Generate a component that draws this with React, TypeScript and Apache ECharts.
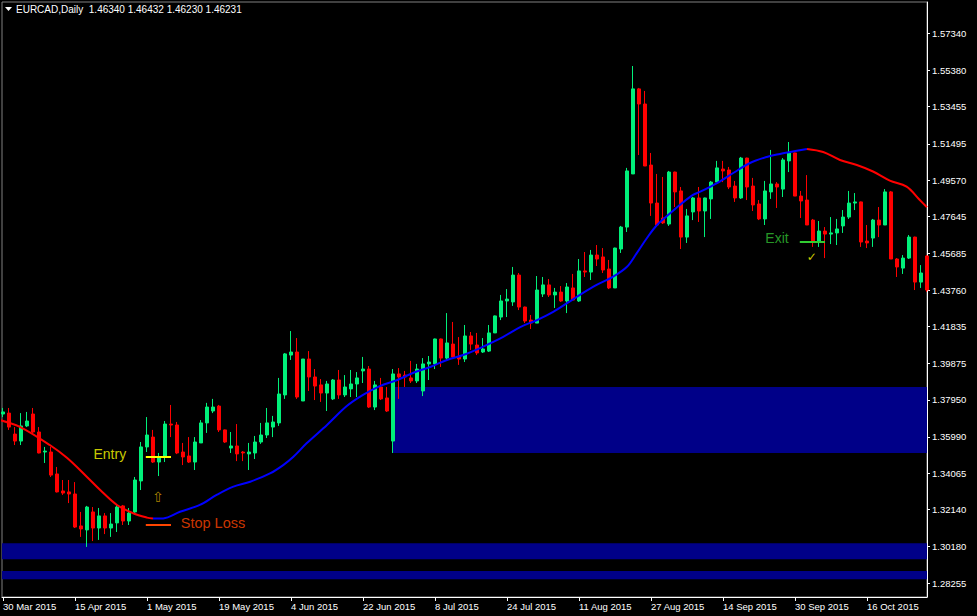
import React, { useEffect, useRef } from "react";
import * as echarts from "echarts";

// ---- Data (EURCAD daily bars, index 0 = 30 Mar 2015) ----
const OPEN = [
  1.3720, 1.3725, 1.3614, 1.3577, 1.3657, 1.3720, 1.3625, 1.3519, 1.3519, 1.3403,
  1.3313, 1.3308, 1.3297, 1.3128, 1.3107, 1.3202, 1.3117, 1.3181, 1.3117, 1.3144,
  1.3234, 1.3154, 1.3202, 1.3366, 1.3546, 1.3598, 1.3466, 1.3493, 1.3667, 1.3662,
  1.3519, 1.3498, 1.3466, 1.3567, 1.3673, 1.3736, 1.3762, 1.3636, 1.3540, 1.3551,
  1.3519, 1.3509, 1.3514, 1.3572, 1.3609, 1.3651, 1.3673, 1.3821, 1.4032, 1.4048,
  1.3789, 1.4011, 1.3916, 1.3874, 1.3831, 1.3800, 1.3900, 1.3821, 1.3853, 1.3879,
  1.3948, 1.3958, 1.3757, 1.3863, 1.3805, 1.3577, 1.3932, 1.3926, 1.3911, 1.3895,
  1.3842, 1.3985, 1.3985, 1.4117, 1.4016, 1.4090, 1.4022, 1.4011, 1.4133, 1.4085,
  1.4048, 1.4053, 1.4149, 1.4233, 1.4318, 1.4313, 1.4455, 1.4286, 1.4217, 1.4201,
  1.4355, 1.4403, 1.4350, 1.4365, 1.4318, 1.4387, 1.4318, 1.4477, 1.4471, 1.4561,
  1.4551, 1.4487, 1.4387, 1.4593, 1.4709, 1.4990, 1.5440, 1.5360, 1.5037, 1.4836,
  1.4757, 1.4725, 1.5000, 1.4900, 1.4656, 1.4789, 1.4863, 1.4794, 1.4858, 1.4947,
  1.5016, 1.5011, 1.4926, 1.4863, 1.5074, 1.4926, 1.4831, 1.4752, 1.4895, 1.4937,
  1.4910, 1.5059, 1.5101, 1.4873, 1.4852, 1.4746, 1.4635, 1.4688, 1.4672, 1.4678,
  1.4715, 1.4762, 1.4836, 1.4842, 1.4635, 1.4651, 1.4746, 1.4720, 1.4895, 1.4540,
  1.4492, 1.4545, 1.4656, 1.4418, 1.4556,
];
const CLOSE = [
  1.3731, 1.3651, 1.3577, 1.3657, 1.3683, 1.3625, 1.3514, 1.3524, 1.3397, 1.3308,
  1.3302, 1.3297, 1.3122, 1.3112, 1.3228, 1.3117, 1.3181, 1.3117, 1.3138, 1.3228,
  1.3154, 1.3196, 1.3371, 1.3546, 1.3609, 1.3466, 1.3493, 1.3667, 1.3662, 1.3514,
  1.3493, 1.3466, 1.3572, 1.3673, 1.3757, 1.3757, 1.3636, 1.3572, 1.3551, 1.3509,
  1.3514, 1.3519, 1.3572, 1.3609, 1.3673, 1.3678, 1.3826, 1.4038, 1.4048, 1.3810,
  1.4011, 1.3916, 1.3868, 1.3831, 1.3879, 1.3900, 1.3821, 1.3863, 1.3879, 1.3911,
  1.3958, 1.3757, 1.3874, 1.3800, 1.3736, 1.3932, 1.3916, 1.3916, 1.3895, 1.3958,
  1.3985, 1.3995, 1.4117, 1.4016, 1.4096, 1.4022, 1.4011, 1.4133, 1.4090, 1.4043,
  1.4064, 1.4149, 1.4239, 1.4318, 1.4328, 1.4455, 1.4286, 1.4212, 1.4201, 1.4376,
  1.4403, 1.4350, 1.4365, 1.4318, 1.4392, 1.4323, 1.4477, 1.4471, 1.4561, 1.4540,
  1.4482, 1.4387, 1.4598, 1.4709, 1.5006, 1.5440, 1.5360, 1.5032, 1.4836, 1.4720,
  1.4731, 1.5000, 1.4895, 1.4656, 1.4768, 1.4863, 1.4794, 1.4863, 1.4947, 1.5022,
  1.5006, 1.4921, 1.4863, 1.5074, 1.4921, 1.4826, 1.4752, 1.4900, 1.4937, 1.4921,
  1.5064, 1.5101, 1.4873, 1.4847, 1.4720, 1.4635, 1.4688, 1.4672, 1.4678, 1.4699,
  1.4762, 1.4836, 1.4842, 1.4630, 1.4625, 1.4746, 1.4720, 1.4895, 1.4540, 1.4498,
  1.4545, 1.4656, 1.4418, 1.4466, 1.4376,
];
const LOW = [
  1.3704, 1.3636, 1.3556, 1.3556, 1.3651, 1.3620, 1.3512, 1.3461, 1.3387, 1.3305,
  1.3292, 1.3249, 1.3117, 1.3070, 1.3017, 1.3048, 1.3054, 1.3085, 1.3070, 1.3096,
  1.3133, 1.3133, 1.3196, 1.3318, 1.3519, 1.3461, 1.3392, 1.3466, 1.3598, 1.3508,
  1.3450, 1.3461, 1.3424, 1.3567, 1.3620, 1.3725, 1.3625, 1.3567, 1.3514, 1.3471,
  1.3471, 1.3424, 1.3482, 1.3562, 1.3593, 1.3598, 1.3657, 1.3800, 1.4006, 1.3800,
  1.3789, 1.3842, 1.3794, 1.3784, 1.3736, 1.3794, 1.3800, 1.3810, 1.3810, 1.3810,
  1.3884, 1.3752, 1.3741, 1.3794, 1.3731, 1.3514, 1.3800, 1.3863, 1.3884, 1.3884,
  1.3815, 1.3900, 1.3958, 1.3969, 1.4006, 1.4011, 1.3980, 1.3995, 1.4059, 1.4032,
  1.4043, 1.4048, 1.4149, 1.4217, 1.4233, 1.4292, 1.4270, 1.4201, 1.4170, 1.4201,
  1.4339, 1.4339, 1.4281, 1.4313, 1.4254, 1.4323, 1.4313, 1.4445, 1.4429, 1.4503,
  1.4466, 1.4381, 1.4387, 1.4572, 1.4683, 1.4990, 1.5090, 1.5032, 1.4768, 1.4720,
  1.4725, 1.4715, 1.4815, 1.4593, 1.4625, 1.4746, 1.4736, 1.4656, 1.4752, 1.4947,
  1.4947, 1.4910, 1.4842, 1.4858, 1.4852, 1.4794, 1.4746, 1.4720, 1.4858, 1.4810,
  1.4868, 1.5000, 1.4873, 1.4757, 1.4720, 1.4604, 1.4604, 1.4545, 1.4619, 1.4614,
  1.4678, 1.4752, 1.4799, 1.4604, 1.4598, 1.4604, 1.4656, 1.4720, 1.4540, 1.4445,
  1.4461, 1.4540, 1.4376, 1.4387, 1.4366,
];
const HIGH = [
  1.3752, 1.3752, 1.3651, 1.3725, 1.3731, 1.3752, 1.3651, 1.3546, 1.3546, 1.3440,
  1.3371, 1.3371, 1.3360, 1.3202, 1.3234, 1.3228, 1.3223, 1.3196, 1.3196, 1.3244,
  1.3239, 1.3223, 1.3387, 1.3572, 1.3704, 1.3636, 1.3514, 1.3683, 1.3768, 1.3678,
  1.3567, 1.3598, 1.3598, 1.3688, 1.3779, 1.3800, 1.3768, 1.3638, 1.3625, 1.3667,
  1.3524, 1.3567, 1.3604, 1.3673, 1.3752, 1.3710, 1.3911, 1.4043, 1.4159, 1.4122,
  1.4011, 1.4053, 1.3958, 1.3905, 1.3895, 1.3905, 1.3953, 1.3926, 1.3953, 1.3942,
  1.4022, 1.3974, 1.3895, 1.3911, 1.3863, 1.3958, 1.3963, 1.3948, 1.4001, 1.3985,
  1.4016, 1.4027, 1.4119, 1.4119, 1.4254, 1.4207, 1.4127, 1.4191, 1.4154, 1.4149,
  1.4122, 1.4191, 1.4241, 1.4350, 1.4381, 1.4498, 1.4466, 1.4288, 1.4244, 1.4450,
  1.4445, 1.4434, 1.4387, 1.4397, 1.4413, 1.4461, 1.4540, 1.4577, 1.4588, 1.4614,
  1.4598, 1.4535, 1.4600, 1.4715, 1.5022, 1.5561, 1.5445, 1.5429, 1.5101, 1.4990,
  1.4974, 1.5006, 1.5002, 1.4921, 1.4805, 1.4868, 1.4921, 1.4865, 1.4953, 1.5059,
  1.5059, 1.5027, 1.4953, 1.5080, 1.5076, 1.4969, 1.4852, 1.4953, 1.5117, 1.4947,
  1.5074, 1.5159, 1.5103, 1.4900, 1.4984, 1.4752, 1.4741, 1.4709, 1.4762, 1.4752,
  1.4799, 1.4900, 1.4889, 1.4844, 1.4720, 1.4752, 1.4815, 1.4910, 1.4900, 1.4545,
  1.4561, 1.4667, 1.4658, 1.4508, 1.4561,
];

// Trend moving average (red = falling, blue = rising): [bar index, price]
const MA_DOWN_1 = [
  [-0.5, 1.3688], [2.8, 1.3652], [7.8, 1.3556], [10.7, 1.3487], [14, 1.3387],
  [16.2, 1.3318], [19, 1.3239], [21.7, 1.3195], [24, 1.3172], [25, 1.3167],
];
const MA_UP = [
  [25, 1.3167], [26.7, 1.3168], [29.5, 1.3203], [32.8, 1.3239], [35.6, 1.3292],
  [38.4, 1.3336], [41.2, 1.3362], [44.5, 1.3406], [46.7, 1.3450], [48.4, 1.3494],
  [50.6, 1.3565], [54, 1.3662], [57.3, 1.3762], [60, 1.3821], [62.8, 1.3868],
  [65.7, 1.3900], [68.3, 1.3937], [71.2, 1.3969], [74, 1.4006], [76.7, 1.4032],
  [79.5, 1.4069], [83.3, 1.4127], [86.2, 1.4180], [89, 1.4217], [91.7, 1.4260],
  [95, 1.4327], [98.4, 1.4394], [101.7, 1.4447], [104, 1.4499], [105.6, 1.4570],
  [107.3, 1.4650], [109, 1.4720], [111.2, 1.4782], [112.8, 1.4826], [115, 1.4879],
  [116.2, 1.4896], [119, 1.4942], [121.7, 1.4995], [124.5, 1.5048], [127.3, 1.5080],
  [129.5, 1.5096], [131.2, 1.5106], [134, 1.5122],
];
const MA_DOWN_2 = [
  [134, 1.5122], [136.7, 1.5106], [139.5, 1.5064], [142.3, 1.5037], [145, 1.5003],
  [147.8, 1.4955], [150.6, 1.4923], [152.8, 1.4852], [154, 1.4814],
];

// Blue zones: start bar (-1 = from the left edge), top and bottom price
const ZONE_START = [65, -1, -1];
const ZONE_TOP = [1.3863, 1.30361, 1.28896];
const ZONE_BOTTOM = [1.3514, 1.29515, 1.28457];

// Trade levels
const ENTRY_PRICE = 1.3493;
const STOP_PRICE = 1.3136;
const EXIT_PRICE = 1.4632;
const LAST_PRICE = 1.46231;

// Axis ticks
const X_TICK_INDEX = [0, 12, 24, 36, 48, 60, 72, 84, 96, 108, 120, 132, 144];
const X_TICK_LABELS = [
  "30 Mar 2015", "15 Apr 2015", "1 May 2015", "19 May 2015", "4 Jun 2015",
  "22 Jun 2015", "8 Jul 2015", "24 Jul 2015", "11 Aug 2015", "27 Aug 2015",
  "14 Sep 2015", "30 Sep 2015", "16 Oct 2015",
];
const Y_TICKS = [
  1.28255, 1.3018, 1.3214, 1.34065, 1.3599, 1.3795, 1.39875, 1.41835, 1.4376,
  1.45685, 1.47645, 1.4957, 1.51495, 1.53455, 1.5538, 1.5734,
];

const X_MIN = -1 / 6;
const X_MAX = 154;
const Y_MIN = 1.27521;
const Y_MAX = 1.58996;

const FONT = "Liberation Sans, Arial, sans-serif";

export default function App() {
  const ref = useRef<HTMLDivElement>(null);

  useEffect(() => {
    if (!ref.current) return;
    const chart = echarts.init(ref.current, undefined, { renderer: "svg" });

    const candles = OPEN.map((o, i) => [i, o, CLOSE[i], LOW[i], HIGH[i]]);

    const zones = ZONE_TOP.map((top, k) => [
      { coord: [ZONE_START[k] < 0 ? X_MIN : ZONE_START[k], top] },
      { coord: [X_MAX, ZONE_BOTTOM[k]] },
    ]);

    const maLine = (data: number[][], color: string) => ({
      type: "line",
      data,
      smooth: 0.35,
      showSymbol: false,
      symbol: "none",
      lineStyle: { color, width: 2 },
      z: 4,
      silent: true,
    });

    const levelSeg = (a: number, b: number, price: number, color: string) => [
      { coord: [a, price], lineStyle: { color, width: 2, type: "solid" } },
      { coord: [b, price] },
    ];

    const option: any = {
      animation: false,
      backgroundColor: "#000000",
      grid: {
        left: 2,
        top: 2,
        right: 50,
        bottom: 19,
        show: true,
        borderColor: "#808080",
        borderWidth: 1,
        backgroundColor: "transparent",
      },
      xAxis: {
        type: "value",
        min: X_MIN,
        max: X_MAX,
        axisLine: { show: true, onZero: false, lineStyle: { color: "#ffffff", width: 1 } },
        axisTick: {
          show: true,
          customValues: X_TICK_INDEX,
          length: 4,
          lineStyle: { color: "#ffffff" },
        },
        axisLabel: {
          customValues: X_TICK_INDEX,
          formatter: (v: number) => {
            const k = X_TICK_INDEX.indexOf(Math.round(v));
            return k >= 0 ? X_TICK_LABELS[k] : "";
          },
          color: "#ffffff",
          fontFamily: FONT,
          fontSize: 9.5,
          align: "left",
          margin: 4,
        },
        splitLine: { show: false },
      },
      yAxis: {
        type: "value",
        position: "right",
        min: Y_MIN,
        max: Y_MAX,
        axisLine: { show: true, onZero: false, lineStyle: { color: "#ffffff", width: 1 } },
        axisTick: {
          show: true,
          customValues: Y_TICKS,
          length: 3,
          lineStyle: { color: "#ffffff" },
        },
        axisLabel: {
          customValues: Y_TICKS,
          formatter: (v: number) => v.toFixed(5),
          color: "#ffffff",
          fontFamily: FONT,
          fontSize: 9.5,
          lineHeight: 10,
          margin: 5,
        },
        splitLine: { show: false },
      },
      series: [
        {
          type: "line",
          name: "zones",
          data: [],
          silent: true,
          markArea: {
            silent: true,
            z: 1,
            itemStyle: { color: "#000088", opacity: 1, borderWidth: 0 },
            data: zones,
          },
        },
        {
          type: "candlestick",
          name: "EURCAD",
          data: candles,
          barWidth: 3,
          z: 3,
          itemStyle: {
            color: "#00f07a",
            color0: "#ff0000",
            borderColor: "#00f07a",
            borderColor0: "#ff0000",
            borderWidth: 1,
          },
        },
        maLine(MA_DOWN_1, "#ff0000"),
        maLine(MA_UP, "#0000ff"),
        maLine(MA_DOWN_2, "#ff0000"),
        {
          type: "line",
          name: "levels",
          data: [],
          clip: false,
          z: 5,
          markLine: {
            silent: true,
            symbol: ["none", "none"],
            label: { show: false },
            data: [
              levelSeg(23.8, 28, ENTRY_PRICE, "#ffff00"),
              levelSeg(23.8, 28, STOP_PRICE, "#ff4500"),
              levelSeg(132.8, 137, EXIT_PRICE, "#32cd32"),
              {
                yAxis: LAST_PRICE,
                lineStyle: { opacity: 0, width: 0 },
                label: {
                  show: true,
                  position: "end",
                  formatter: LAST_PRICE.toFixed(5),
                  color: "#000000",
                  backgroundColor: "#ffffff",
                  padding: [0, 3, 0, 4],
                  fontFamily: FONT,
                  fontSize: 9.5,
                  lineHeight: 10,
                  distance: 1,
                },
              },
            ],
          },
        },
        {
          type: "scatter",
          name: "notes",
          symbolSize: 1,
          itemStyle: { color: "transparent" },
          clip: false,
          z: 6,
          silent: true,
          label: { show: true, position: "inside", fontFamily: FONT },
          data: [
            { value: [17.8, 1.3509], label: { formatter: "Entry", color: "#ffff00", fontSize: 14 } },
            { value: [35, 1.3141], label: { formatter: "Stop Loss", color: "#ff4500", fontSize: 14.5 } },
            { value: [129, 1.4651], label: { formatter: "Exit", color: "#32c032", fontSize: 14 } },
            {
              value: [25.8, 1.3283],
              label: { formatter: "⇧", color: "#d9a400", fontSize: 14, fontFamily: "DejaVu Sans" },
            },
            {
              value: [134.8, 1.4553],
              label: { formatter: "✓", color: "#ffff00", fontSize: 12, fontFamily: "DejaVu Sans" },
            },
          ],
        },
      ],
      graphic: [
        {
          type: "polygon",
          shape: { points: [[5, 7], [12, 7], [8.5, 11]] },
          style: { fill: "#ffffff" },
          silent: true,
        },
        {
          type: "text",
          left: 16,
          top: 4,
          silent: true,
          style: {
            text: "EURCAD,Daily  1.46340 1.46432 1.46230 1.46231",
            fill: "#ffffff",
            fontFamily: FONT,
            fontSize: 10,
          },
        },
      ],
    };

    chart.setOption(option);
    return () => chart.dispose();
  }, []);

  return (
    <div
      ref={ref}
      style={{ position: "fixed", left: 0, top: 0, width: 977, height: 616, background: "#000" }}
    />
  );
}
